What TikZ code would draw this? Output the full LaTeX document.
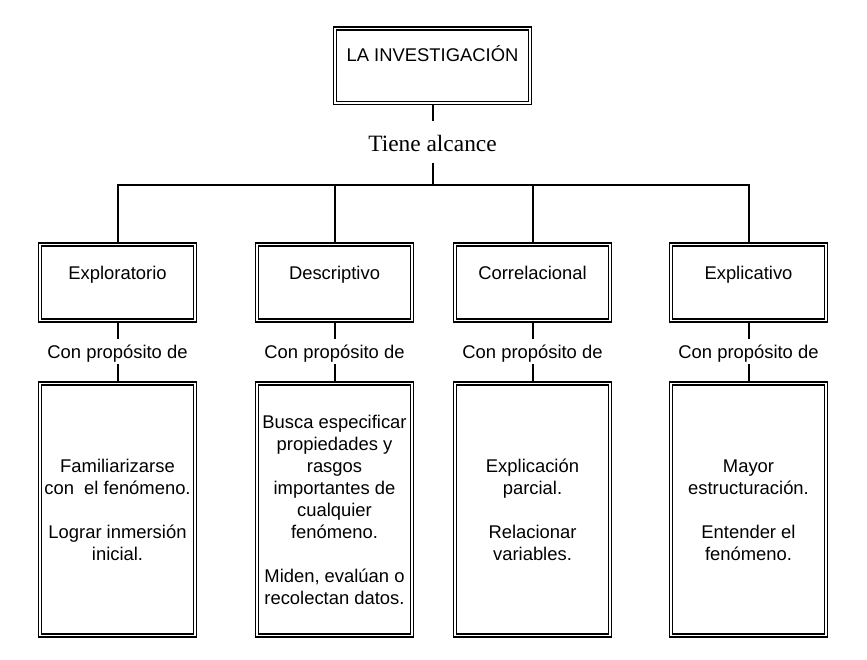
\documentclass[tikz,border=0pt]{standalone}
\usepackage{fontspec}
\setmainfont{Liberation Sans}
\newfontfamily\serifface{Liberation Serif}
\usetikzlibrary{positioning}

\begin{document}
\begin{tikzpicture}[x=1pt,y=-1pt,line width=2pt,
	box node/.style={draw,double,line width=1.8pt,double distance=1.2pt,inner sep=0pt,outer sep=2pt,minimum width=155pt,align=center,font=\fontsize{18.4}{22}\selectfont},
	head node/.style={box node,text height=35pt,text depth=41pt},
	goal node/.style={box node,minimum height=252pt},
	link node/.style={inner sep=0pt,text height=18pt,text depth=5pt,anchor=base,font=\fontsize{18.4}{22}\selectfont}]

			\useasboundingbox (0,0) rectangle (867,660);

			\node[box node,minimum width=195pt,text height=33pt,text depth=41.4pt] (inv) at (432.5,65.9) {LA INVESTIGACIÓN};
			\node[inner sep=0pt,text height=30pt,text depth=10pt,anchor=base,font=\serifface\fontsize{23.4}{28}\selectfont] (alc) at (432.5,152) {Tiene alcance};
			\coordinate (bar) at (432.5,185);

			\node[head node] (exp) at (117.5,282.5) {Exploratorio};
			\node[head node] (des) at (334.5,282.5) {Descriptivo};
			\node[head node] (cor) at (532.5,282.5) {Correlacional};
			\node[head node] (ext) at (748.5,282.5) {Explicativo};

			\node[link node] (p1) at (117.5,358) {Con propósito de};
			\node[link node] (p2) at (334.5,358) {Con propósito de};
			\node[link node] (p3) at (532.5,358) {Con propósito de};
			\node[link node] (p4) at (748.5,358) {Con propósito de};

			\node[goal node] (g1) at (117.5,509.8) {Familiarizarse\\con\ \ el fenómeno.\\[22pt]Lograr inmersión\\inicial.};
			\node[goal node] (g2) at (334.5,509.8) {Busca especificar\\propiedades y\\rasgos\\importantes de\\cualquier\\fenómeno.\\[22pt]Miden, evalúan o\\recolectan datos.};
			\node[goal node] (g3) at (532.5,509.8) {Explicación\\parcial.\\[22pt]Relacionar\\variables.};
			\node[goal node] (g4) at (748.5,509.8) {Mayor\\estructuración.\\[22pt]Entender el\\fenómeno.};

			\draw (exp) |- (bar) -| (ext);
			\path
			(inv)	edge (alc)
			(alc)	edge (bar)
			(des |- bar)	edge (des)
			(cor |- bar)	edge (cor)
			(exp)	edge (p1)
			(p1)	edge (g1)
			(des)	edge (p2)
			(p2)	edge (g2)
			(cor)	edge (p3)
			(p3)	edge (g3)
			(ext)	edge (p4)
			(p4)	edge (g4);
		\end{tikzpicture}
\end{document}
